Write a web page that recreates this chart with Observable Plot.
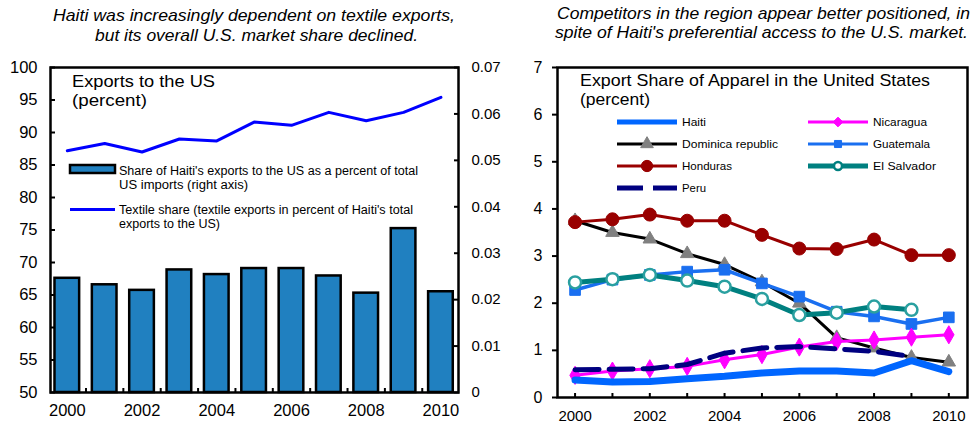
<!DOCTYPE html>
<html><head><meta charset="utf-8">
<script src="https://cdn.jsdelivr.net/npm/d3@7"></script>
<script src="https://cdn.jsdelivr.net/npm/@observablehq/plot@0.6"></script>
<style>
body{margin:0;background:#fff;font-family:"Liberation Sans",Arial,sans-serif;}
#root{position:relative;width:971px;height:426px;overflow:hidden;background:#fff;}
.chart{position:absolute;top:50px;}
#overlay{position:absolute;left:0;top:0;pointer-events:none;}
</style></head><body>
<div id="root">
  <div id="left" class="chart" style="left:0px"></div>
  <div id="right" class="chart" style="left:505px"></div>
</div>
<script>
// ---------- data ----------
const years = [2000, 2001, 2002, 2003, 2004, 2005, 2006, 2007, 2008, 2009, 2010];
// Left panel
const usImportShare = [0.0246, 0.0232, 0.0220, 0.0264, 0.0254, 0.0267, 0.0267, 0.0251, 0.0214, 0.0353, 0.0217]; // right axis
const textileShare  = [87.2, 88.3, 87.0, 89.0, 88.7, 91.6, 91.1, 93.1, 91.8, 93.1, 95.4]; // left axis
const leftTicks  = [50, 55, 60, 65, 70, 75, 80, 85, 90, 95, 100];
const rightTicks = [0, 0.01, 0.02, 0.03, 0.04, 0.05, 0.06, 0.07];
const yearLabels = [2000, 2002, 2004, 2006, 2008, 2010];
// Right panel (percent)
const haiti      = [0.37, 0.33, 0.34, 0.40, 0.45, 0.52, 0.56, 0.56, 0.52, 0.78, 0.55];
const dominican  = [3.75, 3.50, 3.36, 3.05, 2.82, 2.45, 2.00, 1.27, 1.05, 0.85, 0.75];
const honduras   = [3.72, 3.78, 3.88, 3.75, 3.75, 3.45, 3.16, 3.15, 3.35, 3.02, 3.02];
const peru       = [0.59, 0.60, 0.61, 0.70, 0.94, 1.05, 1.08, 1.03, 0.98, 0.87, null];
const nicaragua  = [0.47, 0.56, 0.61, 0.66, 0.80, 0.91, 1.07, 1.19, 1.22, 1.28, 1.33];
const guatemala  = [2.28, 2.50, 2.60, 2.67, 2.71, 2.42, 2.14, 1.82, 1.72, 1.56, 1.70];
const elSalvador = [2.44, 2.51, 2.60, 2.48, 2.35, 2.09, 1.75, 1.80, 1.93, 1.86, null];
const rightYTicks = [0, 1, 2, 3, 4, 5, 6, 7];

const FONT = "Liberation Sans, Arial, sans-serif";

// ---------- left chart ----------
const leftData = years.map((year, i) => ({year, share: usImportShare[i], textile: textileShare[i]}));
const toLeft = v => 50 + v / 0.07 * 50;
const halfYears = years.slice(0, -1).map(y => y + 0.5);

const leftPlot = Plot.plot({
  width: 505, height: 376,
  marginLeft: 50, marginRight: 47, marginTop: 17, marginBottom: 34,
  style: {fontFamily: FONT, fontSize: "15px", color: "#000", background: "transparent", overflow: "visible"},
  x: {domain: [1999.55, 2010.47]},
  y: {domain: [50, 100]},
  marks: [
    Plot.rectY(leftData, {x1: d => d.year - 0.33, x2: d => d.year + 0.33, y1: 50, y2: d => toLeft(d.share),
      fill: "#2080c0", stroke: "#000", strokeWidth: 2.5}),
    Plot.line(leftData, {x: "year", y: "textile", stroke: "#0000ff", strokeWidth: 3}),
    Plot.axisY(leftTicks, {anchor: "left", tickSize: 0, tickPadding: 13, fontSize: 16.5, label: null}),
    Plot.axisY(leftTicks, {anchor: "left", tickSize: 5, dx: 5, tickFormat: () => "", label: null, strokeWidth: 2}),
    Plot.axisY(rightTicks, {anchor: "right", y: toLeft, tickSize: 0, tickPadding: 13, fontSize: 15, label: null,
      tickFormat: d => d === 0 ? "0" : d.toFixed(2)}),
    Plot.axisY(rightTicks, {anchor: "right", y: toLeft, tickSize: 5, dx: -5, tickFormat: () => "", label: null, strokeWidth: 2}),
    Plot.axisX(yearLabels, {anchor: "bottom", tickSize: 0, tickPadding: 12, fontSize: 16.5, label: null, tickFormat: d => `${d}`}),
    Plot.axisX(halfYears, {anchor: "bottom", tickSize: 4, dy: -4, tickFormat: () => "", label: null, strokeWidth: 2}),
    Plot.frame({stroke: "#000", strokeWidth: 2.5})
  ]
});
document.getElementById("left").append(leftPlot);

// ---------- right chart ----------
const seriesDefs = [
  {name: "Dominica republic", values: dominican, stroke: "#000", width: 3, symbol: "triangle", r: 5, fill: "#808080", mstroke: "#808080"},
  {name: "Honduras", values: honduras, stroke: "#990000", width: 3, symbol: "circle", r: 6.5, fill: "#990000", mstroke: "#990000"},
  {name: "Guatemala", values: guatemala, stroke: "#1a6ff0", width: 3.5, symbol: "square", r: 6, fill: "#1a6ff0", mstroke: "#1a6ff0"},
  {name: "El Salvador", values: elSalvador, stroke: "#008080", width: 5, symbol: "circle", r: 6, fill: "#fff", mstroke: "#2aa0a0"},
  {name: "Nicaragua", values: nicaragua, stroke: "#ff00ff", width: 3, symbol: "diamond", r: 5.5, fill: "#ff00ff", mstroke: "#ff00ff"},
  {name: "Peru", values: peru, stroke: "#000080", width: 5, dash: "24,10"},
  {name: "Haiti", values: haiti, stroke: "#0066ff", width: 7}
];
const rows = s => years.map((year, i) => ({year, value: s.values[i], country: s.name})).filter(d => d.value != null);

const rightMarks = [];
for (const s of seriesDefs) {
  const data = rows(s);
  rightMarks.push(Plot.line(data, {x: "year", y: "value", stroke: s.stroke, strokeWidth: s.width,
    strokeDasharray: s.dash, strokeLinejoin: "round"}));
  if (s.symbol) rightMarks.push(Plot.dot(data, {x: "year", y: "value", symbol: s.symbol, r: s.r,
    fill: s.fill, stroke: s.mstroke, strokeWidth: s.fill === "#fff" ? 2.5 : 1}));
}

const rightPlot = Plot.plot({
  width: 466, height: 376,
  marginLeft: 52, marginRight: 4, marginTop: 17, marginBottom: 29,
  style: {fontFamily: FONT, fontSize: "15px", color: "#000", background: "transparent", overflow: "visible"},
  x: {domain: [1999.53, 2010.5]},
  y: {domain: [0, 7]},
  marks: [
    ...rightMarks,
    Plot.axisY(rightYTicks, {anchor: "left", tickSize: 5, tickPadding: 10, fontSize: 16, label: null, strokeWidth: 2}),
    Plot.axisX(yearLabels, {anchor: "bottom", tickSize: 0, tickPadding: 13, fontSize: 15, label: null, tickFormat: d => `${d}`}),
    Plot.axisX(years, {anchor: "bottom", tickSize: 4, dy: -4, tickFormat: () => "", label: null, strokeWidth: 2}),
    Plot.frame({stroke: "#000", strokeWidth: 2.5})
  ]
});
document.getElementById("right").append(rightPlot);

// ---------- overlay: titles and legends ----------
const svg = d3.select("#root").append("svg").attr("id", "overlay")
  .attr("width", 971).attr("height", 426).style("font-family", FONT);

function txt(x, y, s, size, opts = {}) {
  const t = svg.append("text").attr("x", x).attr("y", y).attr("font-size", size).attr("fill", "#000").text(s);
  if (opts.italic) t.attr("font-style", "italic");
  if (opts.len) t.attr("textLength", opts.len).attr("lengthAdjust", "spacingAndGlyphs");
  return t;
}
// top titles
txt(53, 21, "Haiti  was increasingly dependent on textile exports,", 17, {italic: true, len: 402});
txt(95, 41, "but its overall U.S. market share declined.", 17, {italic: true, len: 323});
txt(557, 19, "Competitors in the region appear better positioned, in", 17, {italic: true, len: 413});
txt(555, 38, "spite of Haiti's preferential access to the U.S. market.", 17, {italic: true, len: 413});

// left in-plot title
txt(72, 87, "Exports to the US", 17, {len: 143});
txt(72, 106, "(percent)", 17, {len: 75});
// left legend
svg.append("rect").attr("x", 70).attr("y", 165).attr("width", 45).attr("height", 8)
  .attr("fill", "#2080c0").attr("stroke", "#000").attr("stroke-width", 2.5);
txt(119, 175, "Share of Haiti's exports to the US as a percent of total", 12, {len: 299});
txt(119, 189, "US imports (right axis)", 12, {len: 129});
svg.append("line").attr("x1", 70).attr("x2", 115).attr("y1", 209.5).attr("y2", 209.5)
  .attr("stroke", "#0000ff").attr("stroke-width", 3);
txt(119, 214, "Textile share (textile exports in percent of Haiti's total", 12, {len: 294});
txt(119, 228, "exports to the US)", 12, {len: 101});

// right in-plot title
txt(580, 86, "Export Share of Apparel in the United States", 17, {len: 350});
txt(580, 105, "(percent)", 17, {len: 70});

// right legend
const legendItems = [
  {name: "Haiti", x: 617, y: 122, stroke: "#0066ff", width: 5, len: 24},
  {name: "Dominica republic", x: 617, y: 144, stroke: "#000", width: 3, symbol: d3.symbolTriangle, size: 70, fill: "#808080", mstroke: "#808080", len: 96},
  {name: "Honduras", x: 617, y: 166, stroke: "#990000", width: 3, symbol: d3.symbolCircle, size: 100, fill: "#990000", mstroke: "#990000", len: 50},
  {name: "Peru", x: 617, y: 188, stroke: "#000080", width: 5, dash: "26,10", len: 24},
  {name: "Nicaragua", x: 808, y: 122, stroke: "#ff00ff", width: 3, symbol: d3.symbolDiamond2, size: 60, fill: "#ff00ff", mstroke: "#ff00ff", len: 54},
  {name: "Guatemala", x: 808, y: 144, stroke: "#1a6ff0", width: 3, symbol: d3.symbolSquare, size: 50, fill: "#1a6ff0", mstroke: "#1a6ff0", len: 57},
  {name: "El Salvador", x: 808, y: 166, stroke: "#008080", width: 5, symbol: d3.symbolCircle, size: 50, fill: "#fff", mstroke: "#008080", len: 63}
];
for (const it of legendItems) {
  svg.append("line").attr("x1", it.x).attr("x2", it.x + 60).attr("y1", it.y).attr("y2", it.y)
    .attr("stroke", it.stroke).attr("stroke-width", it.width).attr("stroke-dasharray", it.dash || null);
  if (it.symbol) svg.append("path").attr("d", d3.symbol(it.symbol, it.size)())
    .attr("transform", `translate(${it.x + 30},${it.y})`).attr("fill", it.fill).attr("stroke", it.mstroke)
    .attr("stroke-width", it.fill === "#fff" ? 2.5 : 1);
  txt(it.x + 65, it.y + 4, it.name, 11.5, {len: it.len});
}
</script>
</body></html>
